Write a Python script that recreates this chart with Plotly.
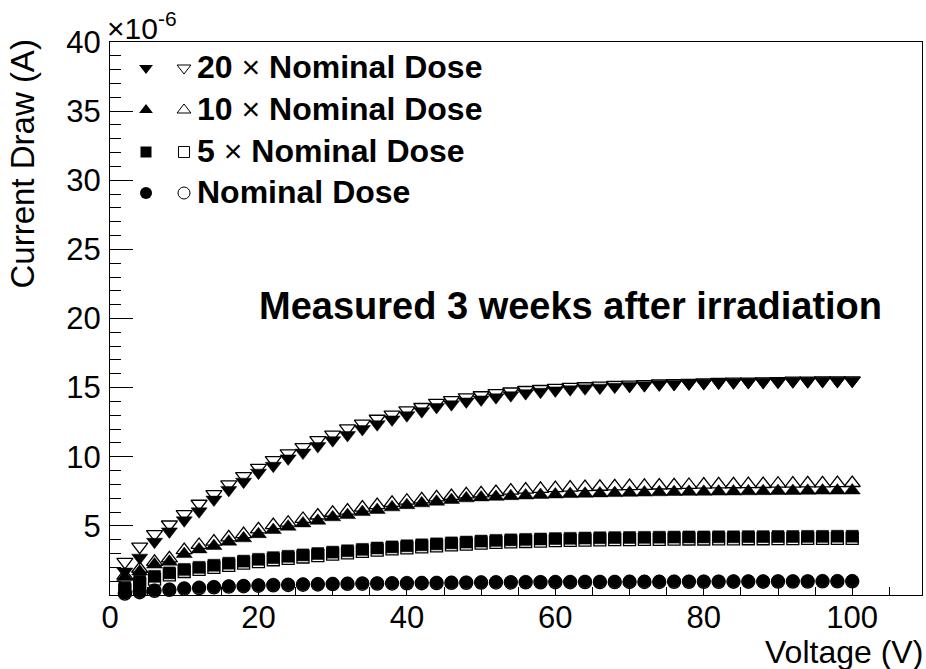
import plotly.graph_objects as go

# ---------------- data (current in units of 1e-6 A) ----------------
voltage = [2, 4, 6, 8, 10, 12, 14, 16, 18, 20,
           22, 24, 26, 28, 30, 32, 34, 36, 38, 40,
           42, 44, 46, 48, 50, 52, 54, 56, 58, 60,
           62, 64, 66, 68, 70, 72, 74, 76, 78, 80,
           82, 84, 86, 88, 90, 92, 94, 96, 98, 100]

dose20_filled = [1.7, 2.7, 3.85, 4.6, 5.4, 6.05, 6.9, 7.6, 8.2, 8.85,
                 9.35, 9.88, 10.3, 10.77, 11.2, 11.57, 12.0, 12.35, 12.7, 13.0,
                 13.3, 13.6, 13.8, 14.0, 14.15, 14.3, 14.45, 14.6, 14.7, 14.8,
                 14.88, 14.95, 15.0, 15.07, 15.12, 15.17, 15.22, 15.26, 15.3, 15.33,
                 15.37, 15.39, 15.41, 15.43, 15.44, 15.47, 15.48, 15.5, 15.5, 15.5]
dose20_open = [2.4, 3.5, 4.4, 5.1, 5.85, 6.6, 7.3, 8.0, 8.6, 9.2,
               9.75, 10.25, 10.7, 11.2, 11.6, 12.05, 12.4, 12.75, 13.05, 13.35,
               13.6, 13.9, 14.1, 14.3, 14.45, 14.6, 14.72, 14.83, 14.9, 14.98,
               15.05, 15.1, 15.15, 15.2, 15.22, 15.25, 15.3, 15.32, 15.35, 15.37,
               15.42, 15.43, 15.44, 15.45, 15.46, 15.5, 15.51, 15.52, 15.52, 15.53]

dose10_filled = [1.3, 1.7, 2.2, 2.41, 2.96, 3.3, 3.54, 3.86, 4.1, 4.4,
                 4.7, 4.94, 5.18, 5.37, 5.62, 5.78, 6.0, 6.15, 6.34, 6.5,
                 6.63, 6.75, 6.87, 6.99, 7.06, 7.1, 7.15, 7.2, 7.24, 7.27,
                 7.3, 7.33, 7.35, 7.37, 7.39, 7.41, 7.43, 7.45, 7.46, 7.47,
                 7.48, 7.49, 7.5, 7.51, 7.52, 7.53, 7.54, 7.55, 7.55, 7.56]
dose10_open = [1.4, 1.9, 2.4, 2.65, 3.25, 3.62, 3.86, 4.17, 4.4, 4.75,
               5.06, 5.23, 5.5, 5.75, 5.95, 6.1, 6.32, 6.5, 6.67, 6.82,
               6.92, 7.06, 7.16, 7.28, 7.35, 7.45, 7.55, 7.62, 7.68, 7.73,
               7.77, 7.8, 7.83, 7.86, 7.88, 7.9, 7.92, 7.94, 7.96, 7.98,
               8.0, 8.01, 8.02, 8.03, 8.05, 8.06, 8.07, 8.08, 8.09, 8.1]

dose5_filled = [0.55, 1.0, 1.35, 1.6, 1.85, 2.0, 2.15, 2.3, 2.45, 2.58,
                2.7, 2.8, 2.9, 3.0, 3.1, 3.2, 3.3, 3.4, 3.48, 3.56,
                3.63, 3.7, 3.77, 3.83, 3.9, 3.95, 3.99, 4.02, 4.05, 4.08,
                4.1, 4.12, 4.14, 4.15, 4.16, 4.17, 4.18, 4.19, 4.2, 4.2,
                4.21, 4.21, 4.22, 4.22, 4.23, 4.23, 4.24, 4.24, 4.25, 4.25]
dose5_open = [0.35, 0.8, 1.15, 1.45, 1.7, 1.85, 2.0, 2.15, 2.3, 2.42,
              2.55, 2.65, 2.75, 2.85, 2.95, 3.05, 3.15, 3.25, 3.33, 3.41,
              3.48, 3.55, 3.62, 3.68, 3.75, 3.8, 3.84, 3.87, 3.9, 3.93,
              3.95, 3.97, 3.99, 4.0, 4.01, 4.02, 4.03, 4.04, 4.05, 4.05,
              4.06, 4.06, 4.07, 4.07, 4.08, 4.08, 4.09, 4.09, 4.1, 4.1]

nominal_filled = [0.15, 0.25, 0.35, 0.42, 0.5, 0.56, 0.6, 0.65, 0.68, 0.72,
                  0.75, 0.77, 0.79, 0.81, 0.83, 0.85, 0.86, 0.87, 0.88, 0.89,
                  0.9, 0.91, 0.92, 0.93, 0.94, 0.95, 0.95, 0.96, 0.96, 0.97,
                  0.97, 0.98, 0.98, 0.98, 0.99, 0.99, 0.99, 1.0, 1.0, 1.0,
                  1.0, 1.01, 1.01, 1.01, 1.02, 1.02, 1.02, 1.03, 1.03, 1.03]
nominal_open = [0.1, 0.2, 0.3, 0.37, 0.45, 0.5, 0.55, 0.6, 0.63, 0.67,
                0.7, 0.72, 0.74, 0.76, 0.78, 0.8, 0.81, 0.82, 0.83, 0.84,
                0.85, 0.86, 0.87, 0.88, 0.89, 0.9, 0.9, 0.91, 0.91, 0.92,
                0.92, 0.93, 0.93, 0.93, 0.94, 0.94, 0.94, 0.95, 0.95, 0.95,
                0.95, 0.96, 0.96, 0.96, 0.97, 0.97, 0.97, 0.98, 0.98, 0.98]

legend_labels = ["<b>20</b> × <b>Nominal Dose</b>",
                 "<b>10</b> × <b>Nominal Dose</b>",
                 "<b>5</b> × <b>Nominal Dose</b>",
                 "<b>Nominal Dose</b>"]

x_tick_vals = [0, 20, 40, 60, 80, 100]
y_tick_vals = [5, 10, 15, 20, 25, 30, 35, 40]

# ---------------- layout geometry ----------------
W, H = 926, 669
ML, MR, MT, MB = 110, 4, 42, 74
PW, PH = W - ML - MR, H - MT - MB
FONT = "Liberation Sans, Arial, Helvetica, sans-serif"


def fx(px):
    return (px - ML) / PW


def fy(py):
    return (H - MB - py) / PH


series = [
    (dose20_filled, dose20_open, "triangle-down", 14),
    (dose10_filled, dose10_open, "triangle-up", 14),
    (dose5_filled, dose5_open, "square", 12),
    (nominal_filled, nominal_open, "circle", 13),
]

fig = go.Figure()
for filled, opened, sym, sz in series:
    fig.add_trace(go.Scatter(
        x=voltage, y=filled, mode="markers", cliponaxis=False, showlegend=False,
        marker=dict(symbol=sym, size=sz, color="black",
                    line=dict(color="black", width=0.5))))
    fig.add_trace(go.Scatter(
        x=voltage, y=opened, mode="markers", cliponaxis=False, showlegend=False,
        marker=dict(symbol=sym + "-open", size=sz, color="black",
                    line=dict(color="black", width=1.3))))

# legend markers (drawn on an overlay axis in paper-like units)
row_y = [68, 110, 152, 193]
filled_x, open_x = 146, 184
leg_sizes = [12, 12, 11, 12]
for (f, o, sym, sz), ry, lsz in zip(series, row_y, leg_sizes):
    fig.add_trace(go.Scatter(
        x=[fx(filled_x)], y=[fy(ry)], xaxis="x2", yaxis="y2", mode="markers",
        showlegend=False, cliponaxis=False,
        marker=dict(symbol=sym, size=lsz, color="black")))
    fig.add_trace(go.Scatter(
        x=[fx(open_x)], y=[fy(ry)], xaxis="x2", yaxis="y2", mode="markers",
        showlegend=False, cliponaxis=False,
        marker=dict(symbol=sym + "-open", size=lsz, color="black",
                    line=dict(color="black", width=1))))

annotations = []
for lab, ry in zip(legend_labels, row_y):
    annotations.append(dict(
        text=lab, x=fx(195), y=fy(ry - 1), xref="paper", yref="paper",
        xanchor="left", yanchor="middle", showarrow=False,
        font=dict(family=FONT, size=32, color="black")))

annotations += [
    dict(text="<b>Measured 3 weeks after irradiation</b>", x=fx(570), y=fy(306),
         xref="paper", yref="paper", xanchor="center", yanchor="middle",
         showarrow=False, font=dict(family=FONT, size=38, color="black")),
    dict(text="×10<sup>-6</sup>", x=fx(105), y=fy(47), xref="paper", yref="paper",
         xanchor="left", yanchor="bottom", showarrow=False,
         font=dict(family=FONT, size=30, color="black")),
    dict(text="Current Draw (A)", x=fx(22), y=fy(38), xref="paper", yref="paper",
         xanchor="center", yanchor="top", textangle=-90, showarrow=False,
         font=dict(family=FONT, size=33, color="black")),
    dict(text="Voltage (V)", x=fx(925), y=fy(652), xref="paper", yref="paper",
         xanchor="right", yanchor="middle", showarrow=False,
         font=dict(family=FONT, size=32, color="black")),
]

fig.update_layout(
    width=W, height=H,
    margin=dict(l=ML, r=MR, t=MT, b=MB, pad=0, autoexpand=False),
    paper_bgcolor="white", plot_bgcolor="white",
    font=dict(family=FONT, color="black"),
    annotations=annotations,
    xaxis=dict(
        range=[0, 109.4], showgrid=False, zeroline=False, automargin=False,
        showline=True, linecolor="black", linewidth=1.3, mirror=True,
        ticks="inside", ticklen=15, tickwidth=1, tickcolor="black",
        tickmode="array", tickvals=x_tick_vals,
        ticktext=[str(v) for v in x_tick_vals],
        tickfont=dict(family=FONT, size=31, color="black"),
        ticklabelstandoff=-5,
        minor=dict(tickmode="linear", tick0=0, dtick=5, ticks="inside",
                   ticklen=8, tickcolor="black", tickwidth=1, showgrid=False),
    ),
    yaxis=dict(
        range=[0, 40], showgrid=False, zeroline=False, automargin=False,
        showline=True, linecolor="black", linewidth=1.3, mirror=True,
        ticks="inside", ticklen=23, tickwidth=1, tickcolor="black",
        tickmode="array", tickvals=y_tick_vals,
        ticktext=[str(v) for v in y_tick_vals],
        tickfont=dict(family=FONT, size=31, color="black"),
        ticklabelstandoff=2,
        minor=dict(tickmode="linear", tick0=0, dtick=1, ticks="inside",
                   ticklen=11, tickcolor="black", tickwidth=1, showgrid=False),
    ),
    xaxis2=dict(range=[0, 1], overlaying="x", visible=False, automargin=False),
    yaxis2=dict(range=[0, 1], overlaying="y", visible=False, automargin=False),
)

fig.write_html("out.html",
               config={"displayModeBar": False},
               post_script="document.body.style.margin='0px';"
                           "document.body.style.overflow='hidden';")
